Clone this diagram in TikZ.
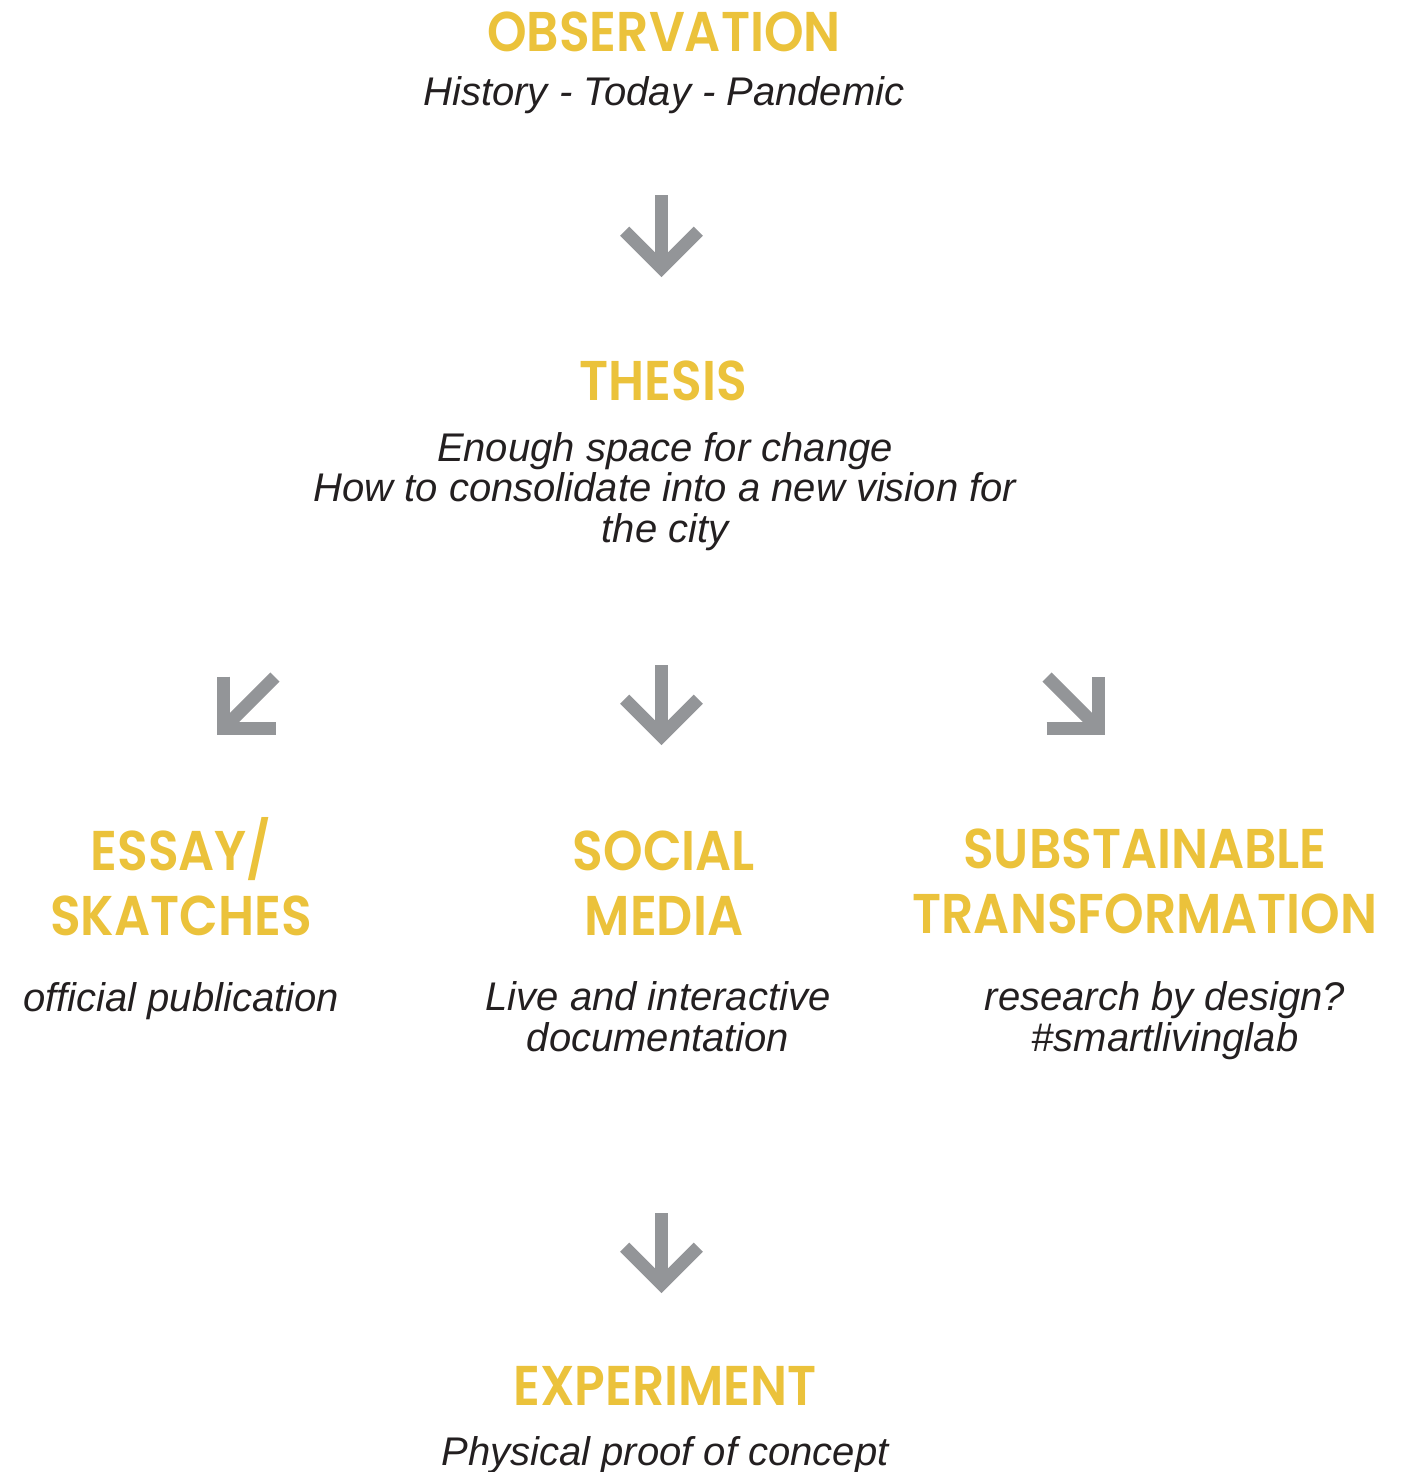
\documentclass[tikz,border=0pt]{standalone}
\usepackage{fontspec}
\setmainfont{Liberation Sans}
\newfontfamily\headfont{Poppins SemiBold}[FakeStretch=0.9]
\usetikzlibrary{calc}
\definecolor{headyellow}{HTML}{EBC23B}
\definecolor{arrowgrey}{HTML}{939598}
\definecolor{textblack}{HTML}{231F20}
\tikzset{
  heading/.style={font=\headfont\fontsize{56}{65}\selectfont, text=headyellow, align=center, inner sep=0pt, anchor=base},
  subtext/.style={font=\itshape\fontsize{40}{40.5}\selectfont, text=textblack, align=center, inner sep=0pt, anchor=base},
  shaft/.style={draw=arrowgrey, line width=13pt, line cap=butt},
  barb/.style={draw=arrowgrey, line width=13pt, line cap=butt, line join=miter},
}
\newcommand\greyarrow[2]{%
  \draw[shaft] (#1) -- (#2);
  \draw[barb] ($(#2)!52pt!45:(#1)$) -- (#2) -- ($(#2)!52pt!-45:(#1)$);}
\begin{document}
\begin{tikzpicture}[x=1pt,y=-1pt]
\useasboundingbox (0,0) rectangle (1406,1472);
% base anchor of a multi-line node = baseline of its last line
\node[heading] (obs) at (664,52) {OBSERVATION};
\node[subtext] (obst) at (664,105) {History - Today - Pandemic};
\node[heading] (thesis) at (663,400) {THESIS};
\node[subtext] (thesist) at (665,542) {Enough space for change\\How to consolidate into a new vision for\\the city};
\node[heading] (essay) at (181,935) {ESSAY/\\SKATCHES};
\node[heading] (social) at (664,935) {SOCIAL\\MEDIA};
\node[heading] (subst) at (1145,933) {SUBSTAINABLE\\TRANSFORMATION};
\node[subtext] (essayt) at (181,1011) {official publication};
\node[subtext] (socialt) at (658,1051) {Live and interactive\\documentation};
\node[subtext] (substt) at (1165,1051) {research by design?\\\#smartlivinglab};
\node[heading] (exp) at (665,1405) {EXPERIMENT};
\node[subtext] (expt) at (665,1465) {Physical proof of concept};
\coordinate (a1s) at (661.5,195);  \coordinate (a1e) at (661.5,268);
\coordinate (a2s) at (275,677);    \coordinate (a2e) at (223.5,728.5);
\coordinate (a3s) at (661.5,665);  \coordinate (a3e) at (661.5,736);
\coordinate (a4s) at (1047,677);   \coordinate (a4e) at (1098.5,728.5);
\coordinate (a5s) at (661.5,1213); \coordinate (a5e) at (661.5,1284);
\greyarrow{a1s}{a1e}
\greyarrow{a2s}{a2e}
\greyarrow{a3s}{a3e}
\greyarrow{a4s}{a4e}
\greyarrow{a5s}{a5e}
\end{tikzpicture}
\end{document}
